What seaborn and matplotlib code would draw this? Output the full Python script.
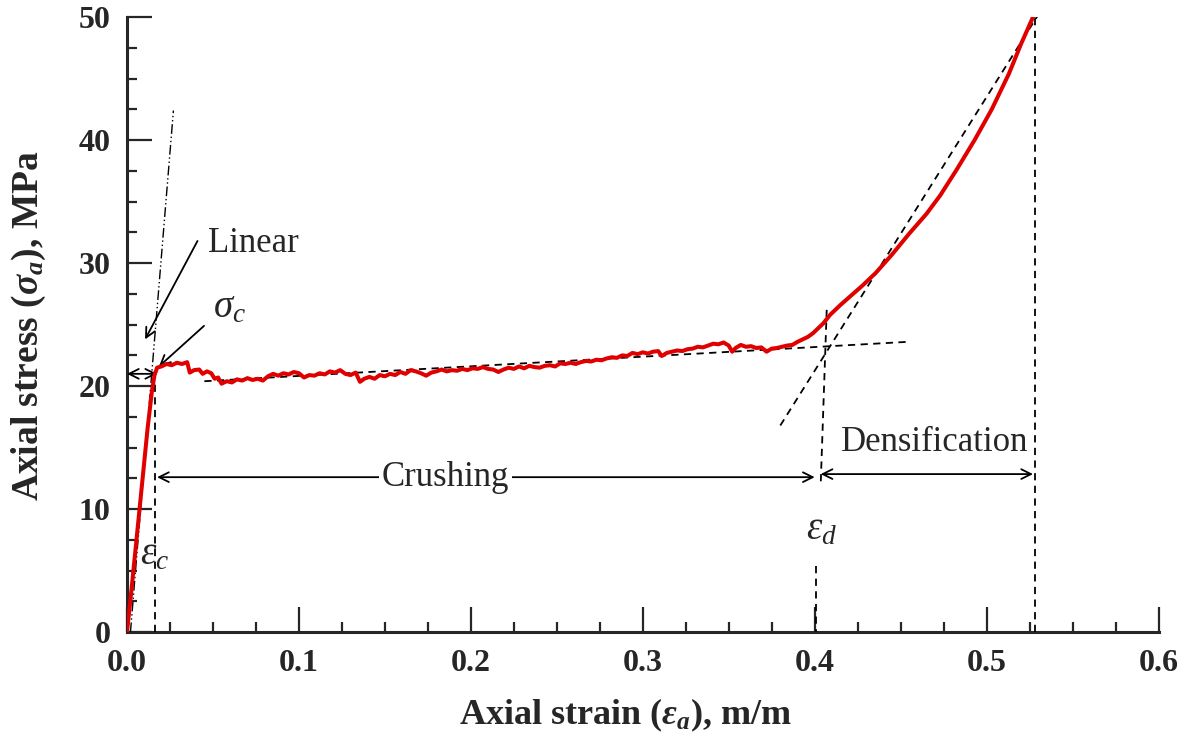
import numpy as np
import pandas as pd
import matplotlib
matplotlib.use("Agg")
import matplotlib.pyplot as plt
from matplotlib.ticker import MultipleLocator
import seaborn as sns

# ---------------- data ----------------
strain_rise = [0.0, 0.003, 0.006, 0.009, 0.012, 0.0145, 0.016, 0.0175]
stress_rise = [0.0, 4.0, 8.2, 12.4, 16.6, 19.6, 20.9, 21.5]

strain_plateau = [
    0.020, 0.023, 0.026, 0.029, 0.032, 0.035, 0.0365, 0.039, 0.042, 0.044,
    0.0465, 0.049, 0.051, 0.053, 0.055, 0.058, 0.061, 0.064, 0.067, 0.070,
    0.073, 0.076, 0.079, 0.082, 0.085, 0.088, 0.091, 0.094, 0.097, 0.100,
    0.103, 0.106, 0.109, 0.112, 0.115, 0.118, 0.121, 0.124, 0.127, 0.130,
    0.133, 0.1355, 0.138, 0.141, 0.144, 0.147, 0.150, 0.153, 0.156, 0.159,
    0.162, 0.165, 0.168, 0.171, 0.174, 0.177, 0.180, 0.183, 0.186, 0.189,
    0.192, 0.195, 0.198, 0.201, 0.204, 0.207, 0.210, 0.213, 0.216, 0.219,
    0.222, 0.225, 0.228, 0.231, 0.234, 0.237, 0.240, 0.243, 0.246, 0.249,
    0.252, 0.255, 0.258, 0.261, 0.264, 0.267, 0.270, 0.273, 0.276, 0.279,
    0.282, 0.285, 0.288, 0.291, 0.294, 0.297, 0.300, 0.303, 0.306, 0.309,
    0.311, 0.314, 0.317, 0.320, 0.323, 0.326, 0.329, 0.332, 0.335, 0.338,
    0.341, 0.344, 0.347, 0.350, 0.352, 0.354, 0.357, 0.360, 0.363, 0.366,
    0.369, 0.372, 0.375, 0.378, 0.381, 0.384, 0.387, 0.390, 0.393, 0.396,
    0.399]
stress_plateau = [
    21.6, 21.8, 21.7, 21.9, 21.8, 21.95, 21.1, 21.3, 21.35, 21.0,
    21.2, 21.05, 20.6, 20.7, 20.2, 20.4, 20.3, 20.55, 20.45, 20.65,
    20.5, 20.6, 20.45, 20.8, 21.0, 20.85, 21.05, 20.95, 21.15, 21.05,
    20.7, 20.9, 20.85, 21.05, 20.95, 21.2, 21.1, 21.3, 21.0, 20.9,
    21.1, 20.35, 20.6, 20.75, 20.6, 20.9, 20.8, 21.0, 20.9, 21.15,
    21.0, 21.3, 21.2, 21.05, 20.85, 21.1, 21.2, 21.35, 21.2, 21.3,
    21.25, 21.4, 21.3, 21.45, 21.4, 21.55, 21.4, 21.35, 21.15, 21.35,
    21.5, 21.4, 21.6, 21.45, 21.65, 21.55, 21.5, 21.65, 21.7, 21.6,
    21.85, 21.8, 21.9, 21.8, 21.95, 22.05, 22.0, 22.15, 22.1, 22.25,
    22.35, 22.3, 22.5, 22.45, 22.7, 22.6, 22.75, 22.65, 22.8, 22.85,
    22.45, 22.7, 22.8, 22.9, 22.85, 23.0, 23.05, 23.2, 23.15, 23.3,
    23.45, 23.4, 23.55, 23.3, 22.8, 23.1, 23.35, 23.2, 23.25, 23.1,
    23.15, 22.8, 23.05, 23.1, 23.2, 23.3, 23.35, 23.6, 23.8, 24.0,
    24.3]

strain_dens = [0.402, 0.405, 0.409, 0.415, 0.4215, 0.428, 0.4355, 0.445,
               0.455, 0.465, 0.473, 0.4826, 0.493, 0.503, 0.513, 0.520, 0.527]
stress_dens = [24.7, 25.1, 25.8, 26.6, 27.4, 28.2, 29.2, 30.7,
               32.4, 34.0, 35.5, 37.6, 40.0, 42.5, 45.4, 47.8, 50.0]

# construction lines (endpoints)
linear_fit_x = [0.002, 0.027]
linear_fit_y = [0.0, 42.4]
plateau_fit_x = [0.045, 0.454]
plateau_fit_y = [20.4, 23.6]
dens_fit_x = [0.380, 0.531]
dens_fit_y = [16.8, 50.4]
eps_c = 0.0165
sigma_c = 21.0
eps_d_top_x = [0.407, 0.4035]
eps_d_top_y = [26.2, 12.0]
eps_d_low_x = [0.4006, 0.4006]
eps_d_low_y = [5.4, 0.0]
eps_end = 0.528

x_ticks = [0.0, 0.1, 0.2, 0.3, 0.4, 0.5, 0.6]
x_tick_labels = ["0.0", "0.1", "0.2", "0.3", "0.4", "0.5", "0.6"]
y_ticks = [0, 10, 20, 30, 40, 50]
y_tick_labels = ["0", "10", "20", "30", "40", "50"]

df = pd.DataFrame({
    "strain": strain_rise + strain_plateau + strain_dens,
    "stress": stress_rise + stress_plateau + stress_dens,
})

# ---------------- style ----------------
sns.set_style("ticks")
plt.rcParams["font.family"] = ["Liberation Serif", "DejaVu Serif"]
plt.rcParams["mathtext.fontset"] = "custom"
plt.rcParams["mathtext.rm"] = "Liberation Serif"
plt.rcParams["mathtext.it"] = "Liberation Serif:italic"
plt.rcParams["mathtext.bf"] = "Liberation Serif:bold"
plt.rcParams["mathtext.bfit"] = "Liberation Serif:italic:bold"

fig = plt.figure(figsize=(11.87, 7.42), dpi=100)
ax = fig.add_axes([0.107, 0.148, 0.869, 0.829])

sns.lineplot(data=df, x="strain", y="stress", sort=False, estimator=None,
             color="#e00000", linewidth=2.9, ax=ax, zorder=5)

dash_kw = dict(color="black", linewidth=1.3, dashes=(4, 3), zorder=4)
ax.plot(plateau_fit_x, plateau_fit_y, **dash_kw)
ax.plot(dens_fit_x, dens_fit_y, **dash_kw)
ax.plot([eps_c, eps_c], [0, sigma_c], **dash_kw)
ax.plot(eps_d_top_x, eps_d_top_y, **dash_kw)
ax.plot(eps_d_low_x, eps_d_low_y, **dash_kw)
ax.plot([eps_end, eps_end], [0, 50], **dash_kw)
ax.plot(linear_fit_x, linear_fit_y, color="black", linewidth=1.0,
        dashes=(7, 2, 1, 2, 1, 2), zorder=4)

# arrows
arr = dict(arrowstyle="<->,head_length=0.7,head_width=0.35", color="black",
           lw=1.3, shrinkA=0, shrinkB=0)
ax.annotate("", xy=(0.0, sigma_c), xytext=(0.0175, sigma_c), arrowprops=arr)
ax.annotate("", xy=(0.0175, 12.6), xytext=(0.400, 12.6), arrowprops=arr)
ax.annotate("", xy=(0.4035, 12.85), xytext=(0.527, 12.85), arrowprops=arr)
one = dict(arrowstyle="->,head_length=0.7,head_width=0.35", color="black",
           lw=1.3, shrinkA=0, shrinkB=0)
ax.annotate("", xy=(0.0105, 23.8), xytext=(0.041, 31.8), arrowprops=one)
ax.annotate("", xy=(0.0186, 21.6), xytext=(0.0448, 24.9), arrowprops=one)

# labels
tfs = 25
gfs = 28
ax.text(0.047, 31.6, "Linear", fontsize=tfs, ha="left", va="center")
ax.text(0.050, 26.4, r"$\sigma_c$", fontsize=gfs, ha="left", va="center")
ax.text(0.185, 12.6, "Crushing", fontsize=tfs, ha="center", va="center",
        bbox=dict(facecolor="white", edgecolor="none", pad=2), zorder=6)
ax.text(0.470, 15.4, "Densification", fontsize=tfs, ha="center", va="center",
        bbox=dict(facecolor="white", edgecolor="none", pad=0), zorder=3)
ax.text(0.0163, 6.3, r"$\varepsilon_c$", fontsize=gfs, ha="center", va="center")
ax.text(0.404, 8.3, r"$\varepsilon_d$", fontsize=gfs, ha="center", va="center")

# axes
ax.set_xlim(0, 0.6)
ax.set_ylim(0, 50)
ax.set_xticks(x_ticks)
ax.set_xticklabels(x_tick_labels)
ax.set_yticks(y_ticks)
ax.set_yticklabels(y_tick_labels)
ax.xaxis.set_minor_locator(MultipleLocator(0.025))
ax.yaxis.set_minor_locator(MultipleLocator(2.5))
ax.tick_params(which="major", direction="in", length=18, width=1.6,
               labelsize=23, pad=12)
ax.tick_params(which="minor", direction="in", length=7, width=1.6)
for lab in ax.get_xticklabels() + ax.get_yticklabels():
    lab.set_fontweight("bold")
sns.despine(ax=ax)
for s in ["left", "bottom"]:
    ax.spines[s].set_linewidth(2.2)

ax.set_xlabel(r"Axial strain ($\mathbfit{\varepsilon_a}$), m/m",
              fontsize=26, fontweight="bold")
ax.set_ylabel(r"Axial stress ($\mathbfit{\sigma_a}$), MPa",
              fontsize=27, fontweight="bold")
ax.xaxis.set_label_coords(0.483, -0.104)
ax.yaxis.set_label_coords(-0.077, 0.499)

fig.savefig("out.png", dpi=100)
